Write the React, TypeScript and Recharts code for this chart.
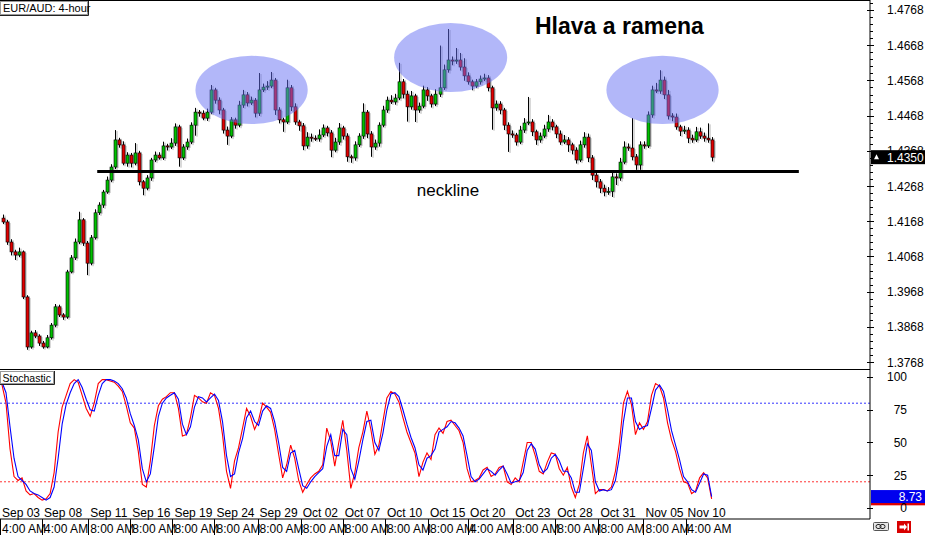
import React from "react";
import { ComposedChart, Bar, Line, XAxis, YAxis, ReferenceLine, ReferenceArea } from "recharts";

// ---------------- DATA ----------------
const firstOpen = 1.4177;
const candleCloses = [
  1.4166, 1.4109, 1.4081, 1.4072, 1.4081, 1.3953, 1.3811, 1.3851, 1.3842, 1.3822,
  1.3811, 1.3837, 1.3873, 1.3925, 1.3902, 1.3896, 1.4024, 1.4064, 1.4109, 1.4172,
  1.4106, 1.4049, 1.4121, 1.4192, 1.4214, 1.4251, 1.4285, 1.4322, 1.4399, 1.4385,
  1.4333, 1.4356, 1.4333, 1.4362, 1.4280, 1.4262, 1.4291, 1.4342, 1.4356, 1.4348,
  1.4382, 1.4379, 1.4390, 1.4436, 1.4348, 1.4379, 1.4393, 1.4441, 1.4478, 1.4475,
  1.4461, 1.4478, 1.4541, 1.4512, 1.4484, 1.4427, 1.4410, 1.4456, 1.4441, 1.4498,
  1.4527, 1.4504, 1.4512, 1.4475, 1.4541, 1.4549, 1.4552, 1.4569, 1.4484, 1.4456,
  1.4450, 1.4547, 1.4493, 1.4450, 1.4439, 1.4382, 1.4407, 1.4404, 1.4402, 1.4413,
  1.4433, 1.4419, 1.4370, 1.4393, 1.4433, 1.4410, 1.4351, 1.4348, 1.4385, 1.4410,
  1.4478, 1.4416, 1.4379, 1.4390, 1.4441, 1.4484, 1.4512, 1.4507, 1.4518, 1.4564,
  1.4529, 1.4493, 1.4524, 1.4484, 1.4495, 1.4541, 1.4524, 1.4501, 1.4529, 1.4547,
  1.4598, 1.4626, 1.4623, 1.4626, 1.4606, 1.4581, 1.4564, 1.4552, 1.4564, 1.4572,
  1.4575, 1.4547, 1.4490, 1.4501, 1.4484, 1.4441, 1.4416, 1.4413, 1.4393, 1.4427,
  1.4447, 1.4450, 1.4422, 1.4399, 1.4410, 1.4430, 1.4450, 1.4436, 1.4416, 1.4393,
  1.4399, 1.4385, 1.4370, 1.4342, 1.4385, 1.4407, 1.4348, 1.4299, 1.4280, 1.4262,
  1.4251, 1.4253, 1.4294, 1.4291, 1.4336, 1.4379, 1.4376, 1.4351, 1.4328, 1.4385,
  1.4382, 1.4470, 1.4541, 1.4538, 1.4569, 1.4527, 1.4467, 1.4464, 1.4436, 1.4424,
  1.4427, 1.4404, 1.4399, 1.4422, 1.4410, 1.4404, 1.4399, 1.4350,
];
const upperWickPips = [
  10, 6, 8, 6, 12, 4, 5, 6, 8, 5,
  6, 8, 6, 8, 6, 5, 6, 8, 10, 23,
  5, 6, 8, 10, 8, 6, 10, 8, 28, 6,
  10, 8, 6, 28, 6, 5, 8, 6, 10, 8,
  12, 6, 14, 10, 6, 8, 10, 8, 12, 6,
  8, 10, 14, 6, 8, 6, 10, 8, 6, 12,
  14, 8, 10, 6, 48, 10, 14, 23, 6, 8,
  6, 23, 8, 10, 6, 8, 14, 10, 8, 16,
  10, 6, 8, 12, 14, 6, 8, 6, 10, 8,
  25, 6, 8, 10, 8, 12, 10, 14, 12, 54,
  8, 10, 14, 6, 10, 12, 8, 6, 14, 120,
  15, 88, 10, 34, 20, 25, 10, 6, 8, 10,
  12, 8, 6, 10, 8, 6, 8, 10, 6, 12,
  14, 71, 8, 6, 10, 12, 20, 8, 6, 10,
  14, 8, 6, 8, 12, 14, 10, 8, 6, 8,
  10, 12, 14, 10, 12, 16, 10, 85, 8, 10,
  10, 10, 12, 20, 28, 10, 14, 8, 10, 6,
  12, 8, 10, 14, 12, 10, 42, 8,
];
const lowerWickPips = [
  6, 8, 10, 14, 6, 6, 8, 5, 6, 8,
  5, 4, 5, 6, 6, 8, 5, 4, 6, 6,
  8, 34, 6, 5, 6, 8, 5, 6, 6, 8,
  6, 10, 12, 6, 10, 20, 6, 8, 6, 5,
  6, 10, 6, 8, 25, 6, 8, 6, 30, 10,
  6, 8, 6, 10, 12, 10, 25, 6, 10, 6,
  8, 10, 6, 12, 8, 6, 8, 6, 14, 10,
  28, 6, 12, 8, 14, 12, 8, 10, 6, 8,
  6, 10, 20, 6, 8, 10, 14, 14, 8, 6,
  8, 12, 28, 8, 10, 6, 8, 6, 8, 6,
  12, 42, 8, 34, 8, 6, 14, 10, 6, 8,
  6, 8, 12, 8, 10, 14, 8, 12, 6, 8,
  6, 10, 62, 8, 12, 14, 51, 8, 10, 6,
  8, 6, 12, 14, 8, 6, 8, 10, 12, 8,
  6, 20, 12, 10, 6, 8, 12, 14, 16, 14,
  12, 8, 16, 20, 8, 6, 8, 10, 14, 14,
  8, 6, 8, 6, 8, 12, 10, 12, 8, 14,
  8, 14, 8, 6, 8, 10, 8, 12,
];
const stochK = [
  94, 80, 45, 24, 21, 23, 13, 10, 11, 8,
  6, 7, 11, 27, 58, 77, 86, 95, 98, 96,
  86, 76, 70, 80, 95, 98, 98, 97, 96, 93,
  89, 78, 65, 61, 43, 18, 16, 36, 63, 78,
  83, 85, 88, 88, 76, 55, 56, 69, 86, 84,
  81, 80, 88, 86, 76, 56, 28, 15, 36, 46,
  61, 76, 70, 60, 67, 80, 77, 73, 60, 41,
  23, 33, 48, 38, 21, 12, 18, 23, 26, 28,
  33, 61, 51, 32, 50, 67, 44, 15, 27, 46,
  58, 74, 60, 41, 48, 66, 84, 89, 87, 81,
  69, 58, 50, 42, 24, 35, 42, 37, 56, 61,
  57, 66, 67, 63, 59, 50, 30, 20, 21, 23,
  29, 31, 24, 26, 31, 32, 20, 18, 23, 20,
  35, 50, 50, 40, 28, 26, 35, 42, 41, 30,
  25, 31, 16, 8, 18, 42, 55, 33, 11, 14,
  14, 13, 16, 28, 50, 80, 89, 79, 56, 65,
  60, 66, 86, 95, 93, 84, 65, 52, 43, 30,
  20, 19, 11, 13, 23, 27, 23, 7,
];
const stochD = [
  96, 88, 62, 38, 24, 21, 18, 13, 11, 10,
  8, 6, 8, 16, 38, 64, 79, 88, 95, 98,
  92, 83, 75, 74, 86, 95, 98, 98, 97, 95,
  91, 84, 72, 63, 52, 30, 20, 26, 47, 70,
  80, 84, 86, 88, 83, 64, 56, 62, 77, 85,
  84, 81, 84, 87, 82, 66, 40, 24, 26, 42,
  53, 69, 74, 66, 63, 74, 78, 76, 66, 50,
  31, 28, 42, 44, 30, 17, 15, 20, 24, 27,
  30, 47, 56, 40, 40, 60, 56, 30, 22, 36,
  52, 66, 67, 50, 44, 57, 75, 87, 88, 85,
  75, 64, 54, 46, 33, 29, 38, 40, 45, 58,
  60, 62, 66, 65, 61, 55, 40, 24, 20, 22,
  26, 30, 28, 25, 29, 32, 26, 19, 20, 21,
  27, 44, 49, 45, 33, 27, 30, 38, 41, 36,
  28, 28, 23, 12, 12, 30, 49, 44, 20, 13,
  14, 13, 14, 21, 39, 66, 84, 84, 66, 60,
  62, 63, 76, 90, 94, 89, 75, 59, 48, 37,
  24, 20, 14, 12, 19, 26, 25, 8.73,
];
const priceLabels = [1.3768, 1.3868, 1.3968, 1.4068, 1.4168, 1.4268, 1.4368, 1.4468, 1.4568, 1.4668, 1.4768];
const stochLabels = [0, 25, 50, 75, 100];
const stochLevels = { upper: 80, lower: 20 };
const dateLabels = ["Sep 03", "Sep 08", "Sep 11", "Sep 16", "Sep 19", "Sep 24", "Sep 29", "Oct 02", "Oct 07", "Oct 10", "Oct 15", "Oct 20", "Oct 23", "Oct 28", "Oct 31", "Nov 05", "Nov 10"];
const timeLabels = ["4:00 AM", "4:00 AM", "8:00 AM", "8:00 AM", "8:00 AM", "8:00 AM", "8:00 AM", "8:00 AM", "8:00 AM", "8:00 AM", "8:00 AM", "4:00 AM", "8:00 AM", "8:00 AM", "8:00 AM", "8:00 AM", "4:00 AM"];
const dateTickIndex = [-0.5, 10, 21.5, 32, 42.5, 53, 63.75, 74.5, 85, 95.5, 106.25, 116.25, 127.5, 138, 148.75, 160, 170.5];
const patternZones = [
  { x1: 48.25, x2: 76.25, y1: 1.4444, y2: 1.4638 },
  { x1: 97.8, x2: 126.0, y1: 1.4535, y2: 1.4731 },
  { x1: 150.75, x2: 178.75, y1: 1.4444, y2: 1.4638 },
];
const neckline = { from: 23.75, to: 198.75, price: 1.4309 };
const title = "EUR/AUD: 4-hour";
const patternTitle = "Hlava a ramena";

// ---------------- BUILD ----------------
const PIP = 0.0001;
const candles = candleCloses.map((c, i) => {
  const o = i === 0 ? firstOpen : candleCloses[i - 1];
  const h = Math.max(o, c) + upperWickPips[i] * PIP;
  const l = Math.min(o, c) - lowerWickPips[i] * PIP;
  return { i, o, c, h, l, range: [l, h] };
});
const stochRows = stochK.map((k, i) => ({ i, k, d: stochD[i] }));
const lastPrice = candleCloses[candleCloses.length - 1];
const lastK = stochK[stochK.length - 1];
const lastD = stochD[stochD.length - 1];

const X_DOMAIN: [number, number] = [-0.5, 216.5];
const P_DOMAIN: [number, number] = [1.37484, 1.47964];
const S_DOMAIN: [number, number] = [-8.4, 106.1];
const minorPriceTicks: number[] = [];
for (let k = 0; k <= 51; k++) minorPriceTicks.push(+(1.3768 + k * 0.002).toFixed(4));
const minorStochTicks: number[] = [];
for (let v = -5; v <= 105; v += 5) minorStochTicks.push(v);

const FONT = '"Liberation Sans", Arial, sans-serif';
const GREEN = "#00c000";
const RED = "#e00000";

function Candle(props: any) {
  const { x, y, width, height, payload } = props;
  if (!payload || !isFinite(y) || !isFinite(height)) return <g />;
  const { o, c, h, l } = payload;
  const top = Math.min(y, y + height);
  const bot = Math.max(y, y + height);
  const k = (bot - top) / (h - l);
  const py = (v: number) => top + (h - v) * k;
  const cx = Math.round(x + width / 2);
  const bTop = py(Math.max(o, c));
  const bBot = py(Math.min(o, c));
  const bH = Math.max(1, bBot - bTop);
  const up = c >= o;
  return (
    <g>
      <line x1={cx + 2} x2={cx + 2} y1={top + 1} y2={bot + 1} stroke="#b4b4b4" strokeWidth={1} />
      <rect x={cx + 1} y={bTop + 1} width={2.5} height={bH} fill="#b4b4b4" />
      <line x1={cx + 0.5} x2={cx + 0.5} y1={top} y2={bot} stroke="#000" strokeWidth={1} />
      <rect x={cx - 1} y={bTop} width={3} height={bH} fill={up ? GREEN : RED} stroke="#000" strokeWidth={0.6} />
    </g>
  );
}

function EllipseShape(props: any) {
  const { x, y, width, height } = props;
  return (
    <ellipse cx={x + width / 2} cy={y + height / 2} rx={Math.abs(width) / 2} ry={Math.abs(height) / 2} fill="#6670f3" fillOpacity={0.5} />
  );
}

function PriceAxisTick(props: any) {
  const { x, y, payload } = props;
  const v = payload.value;
  const label = priceLabels.find((p) => Math.abs(p - v) < 1e-7);
  const yy = Math.round(y) + 0.5;
  return (
    <g>
      <line x1={x - (label !== undefined ? 3 : 0)} x2={x + (label !== undefined ? 4 : 3)} y1={yy} y2={yy} stroke="#000" />
      {label !== undefined && (
        <text x={x + 17} y={y + 4.5} fontSize={12} fontFamily={FONT} fill="#000">{label.toFixed(4)}</text>
      )}
    </g>
  );
}

function LeftPriceTick(props: any) {
  const { y, payload } = props;
  const major = priceLabels.some((p) => Math.abs(p - payload.value) < 1e-7);
  const yy = Math.round(y) + 0.5;
  return <line x1={0} x2={major ? 6 : 4} y1={yy} y2={yy} stroke="#333" />;
}

function LeftStochTick(props: any) {
  const { y } = props;
  const yy = Math.round(y) + 0.5;
  return <line x1={0} x2={4} y1={yy} y2={yy} stroke="#333" />;
}

function StochAxisTick(props: any) {
  const { x, y, payload } = props;
  const yy = Math.round(y) + 0.5;
  return (
    <g>
      <line x1={x - 3} x2={x + 3} y1={yy} y2={yy} stroke="#000" />
      <text x={x + 37} y={y + 4.5} textAnchor="end" fontSize={12} fontFamily={FONT} fill="#000">{payload.value}</text>
    </g>
  );
}

function DateTick(props: any) {
  const { x, y, payload } = props;
  let idx = 0;
  let best = Infinity;
  dateTickIndex.forEach((t, j) => {
    const dd = Math.abs(t - payload.value);
    if (dd < best) { best = dd; idx = j; }
  });
  const xx = Math.round(x) + 0.5;
  return (
    <g>
      <line x1={xx} x2={xx} y1={y} y2={y + 16} stroke="#000" />
      <text x={x + 2} y={y - 2.5} fontSize={12} fontFamily={FONT} fill="#000">{dateLabels[idx]}</text>
      <text x={x + 2} y={y + 13.5} fontSize={12} fontFamily={FONT} fill="#000">{timeLabels[idx]}</text>
    </g>
  );
}

function PriceTag(props: any) {
  const vb = props.viewBox || {};
  const ax = (vb.x ?? 0) + (vb.width ?? 0);
  const cy = vb.y ?? 0;
  return (
    <g>
      <rect x={ax + 1} y={cy - 7} width={56} height={14} fill="#000" />
      <polygon points={`${ax + 4},${cy + 2} ${ax + 9},${cy + 2} ${ax + 6.5},${cy - 3}`} fill="#fff" />
      <text x={ax + 17} y={cy + 4.5} fill="#fff" fontSize={12} fontFamily={FONT}>{props.text}</text>
    </g>
  );
}

function StochTag(props: any) {
  const vb = props.viewBox || {};
  const ax = (vb.x ?? 0) + (vb.width ?? 0);
  const cy = vb.y ?? 0;
  return (
    <g>
      <rect x={ax + 1} y={cy - 6.5} width={56} height={13} fill={props.bg} />
      {props.text && (
        <text x={ax + 52} y={cy + 4.5} textAnchor="end" fill="#fff" fontSize={12} fontFamily={FONT}>{props.text}</text>
      )}
    </g>
  );
}

export default function App() {
  return (
    <div style={{ position: "absolute", left: 0, top: 0, width: 925, height: 535, background: "#fff", overflow: "hidden", fontFamily: FONT }}>
      {/* main price panel: candles and axes */}
      <div style={{ position: "absolute", left: 0, top: 0 }}>
        <ComposedChart width={925} height={369} data={candles} margin={{ top: 0, right: 0, bottom: 0, left: 0 }}>
          <XAxis xAxisId="x" dataKey="i" type="number" domain={X_DOMAIN} allowDataOverflow hide />
          <YAxis
            yAxisId="p"
            orientation="right"
            type="number"
            domain={P_DOMAIN}
            allowDataOverflow
            width={55}
            ticks={minorPriceTicks}
            interval={0}
            tickSize={0}
            tickMargin={0}
            tickLine={false}
            axisLine={{ stroke: "#000" }}
            tick={<PriceAxisTick />}
          />
          <YAxis
            yAxisId="l"
            orientation="left"
            mirror
            width={0}
            type="number"
            domain={P_DOMAIN}
            allowDataOverflow
            ticks={minorPriceTicks}
            interval={0}
            tickSize={0}
            tickLine={false}
            axisLine={false}
            tick={<LeftPriceTick />}
          />
          <Bar xAxisId="x" yAxisId="p" dataKey="range" barSize={3} shape={<Candle />} isAnimationActive={false} />
        </ComposedChart>
      </div>

      {/* main price panel overlay: pattern ellipses, neckline, last-price tag (same scales) */}
      <div style={{ position: "absolute", left: 0, top: 0, pointerEvents: "none" }}>
        <ComposedChart width={925} height={369} data={candles} margin={{ top: 0, right: 0, bottom: 0, left: 0 }}>
          <XAxis xAxisId="x" dataKey="i" type="number" domain={X_DOMAIN} allowDataOverflow hide />
          <YAxis
            yAxisId="p"
            orientation="right"
            type="number"
            domain={P_DOMAIN}
            allowDataOverflow
            width={55}
            tick={false}
            tickLine={false}
            axisLine={false}
          />
          {patternZones.map((z, j) => (
            <ReferenceArea
              key={j}
              xAxisId="x"
              yAxisId="p"
              x1={z.x1}
              x2={z.x2}
              y1={z.y1}
              y2={z.y2}
              shape={<EllipseShape />}
            />
          ))}
          <ReferenceLine
            xAxisId="x"
            yAxisId="p"
            segment={[{ x: neckline.from, y: neckline.price }, { x: neckline.to, y: neckline.price }]}
            stroke="#000"
            strokeWidth={3}
            label={{ value: "neckline", position: "bottom", offset: 12, fill: "#000", fontSize: 17, fontFamily: FONT }}
          />
          <ReferenceLine xAxisId="x" yAxisId="p" y={lastPrice} stroke="none" label={<PriceTag text={lastPrice.toFixed(4)} />} />
        </ComposedChart>
      </div>

      {/* stochastic panel */}
      <div style={{ position: "absolute", left: 0, top: 369 }}>
        <ComposedChart width={925} height={166} data={stochRows} margin={{ top: 0, right: 0, bottom: 0, left: 0 }}>
          <XAxis
            xAxisId="x"
            dataKey="i"
            type="number"
            domain={X_DOMAIN}
            allowDataOverflow
            ticks={dateTickIndex}
            interval={0}
            height={16}
            tickSize={0}
            tickMargin={0}
            tickLine={false}
            axisLine={{ stroke: "#000" }}
            tick={<DateTick />}
          />
          <YAxis
            yAxisId="s"
            orientation="right"
            type="number"
            domain={S_DOMAIN}
            allowDataOverflow
            width={55}
            ticks={stochLabels}
            interval={0}
            tickSize={0}
            tickMargin={0}
            tickLine={false}
            axisLine={{ stroke: "#000" }}
            tick={<StochAxisTick />}
          />
          <YAxis
            yAxisId="l"
            orientation="left"
            mirror
            width={0}
            type="number"
            domain={S_DOMAIN}
            allowDataOverflow
            ticks={minorStochTicks}
            interval={0}
            tickSize={0}
            tickLine={false}
            axisLine={false}
            tick={<LeftStochTick />}
          />
          <ReferenceLine xAxisId="x" yAxisId="s" y={stochLevels.upper} stroke="#3333ff" strokeDasharray="2 2" />
          <ReferenceLine xAxisId="x" yAxisId="s" y={stochLevels.lower} stroke="#ff3333" strokeDasharray="2 2" />
          <Line xAxisId="x" yAxisId="s" dataKey="k" type="linear" stroke="#ff0000" strokeWidth={1.1} dot={false} isAnimationActive={false} />
          <Line xAxisId="x" yAxisId="s" dataKey="d" type="linear" stroke="#0000ff" strokeWidth={1.1} dot={false} isAnimationActive={false} />
          <ReferenceLine xAxisId="x" yAxisId="s" y={lastK} stroke="none" label={<StochTag bg="#e00000" text="" />} />
          <ReferenceLine xAxisId="x" yAxisId="s" y={lastD} stroke="none" label={<StochTag bg="#0000ee" text={lastD.toFixed(2)} />} />
        </ComposedChart>
      </div>

      {/* frame lines & annotations */}
      <svg width={925} height={535} style={{ position: "absolute", left: 0, top: 0, pointerEvents: "none" }}>
        <line x1={0} x2={870} y1={0.5} y2={0.5} stroke="#000" />
        <line x1={0} x2={870} y1={369.5} y2={369.5} stroke="#000" />
        <rect x={0.5} y={1.5} width={87} height={13} fill="#fff" stroke="#9a9a9a" />
        <line x1={88.5} x2={88.5} y1={1} y2={15.5} stroke="#222" />
        <line x1={0} x2={88.5} y1={15.5} y2={15.5} stroke="#222" />
        <text x={3} y={12} fontSize={11} fontFamily={FONT} fill="#000">{title}</text>
        <rect x={0.5} y={371.5} width={53} height={12} fill="#fff" stroke="#9a9a9a" />
        <line x1={54.5} x2={54.5} y1={371} y2={384.5} stroke="#222" />
        <line x1={0} x2={54.5} y1={384.5} y2={384.5} stroke="#222" />
        <text x={2.5} y={381.5} fontSize={10.5} fontFamily={FONT} fill="#000">Stochastic</text>
        <text x={535} y={33.5} fontSize={23} fontWeight="bold" fontFamily={FONT} fill="#000">{patternTitle}</text>
        {/* toolbar icons */}
        <rect x={873.5} y={522.5} width={15} height={8} rx={1} fill="#e6e6e6" stroke="#555" />
        <rect x={876} y={524.5} width={5} height={4} rx={2} fill="none" stroke="#222" />
        <rect x={880} y={524.5} width={5} height={4} rx={2} fill="none" stroke="#222" />
        <rect x={897} y={521} width={14} height={12} fill="#d80000" />
        <polygon points="899.5,525.5 904,525.5 904,523.5 907,527 904,530.5 904,528.5 899.5,528.5" fill="#fff" />
        <rect x={907.5} y={523.5} width={1.5} height={7} fill="#fff" />
      </svg>
    </div>
  );
}
